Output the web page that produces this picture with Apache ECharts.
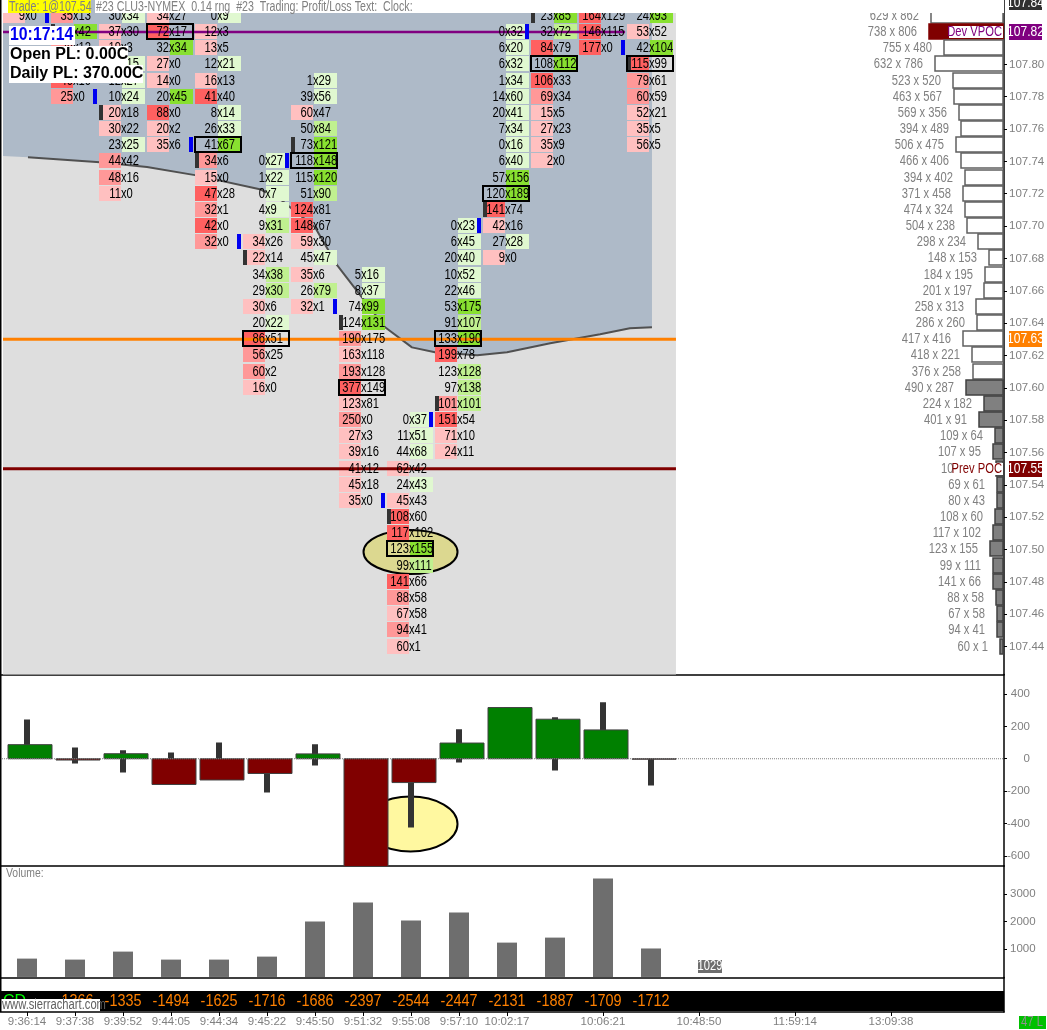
<!DOCTYPE html>
<html><head><meta charset="utf-8"><style>html,body{margin:0;padding:0;background:#fff}#c{width:1047px;height:1030px}</style>
<script src="https://cdn.jsdelivr.net/npm/echarts@6/dist/echarts.min.js"></script></head>
<body><div id="c"></div><script>
const FONT = '"Liberation Sans",sans-serif';
// footprint rows: [price, bid volume, ask volume], one list per bar
const bar0 = [[107.83,9,0]];
const bar1 = [[107.83,35,13],[107.82,18,42],[107.81,28,12],[107.80,22,15],[107.79,40,10],[107.78,25,0]];
const bar2 = [[107.83,30,34],[107.82,37,30],[107.81,19,3],[107.80,8,15],[107.79,12,27],[107.78,10,24],[107.77,20,18],[107.76,30,22],[107.75,23,25],[107.74,44,42],[107.73,48,16],[107.72,11,0]];
const bar3 = [[107.83,34,27],[107.82,72,17],[107.81,32,34],[107.80,27,0],[107.79,14,0],[107.78,20,45],[107.77,88,0],[107.76,20,2],[107.75,35,6]];
const bar4 = [[107.83,0,9],[107.82,12,3],[107.81,13,5],[107.80,12,21],[107.79,16,13],[107.78,41,40],[107.77,8,14],[107.76,26,33],[107.75,41,67],[107.74,34,6],[107.73,15,0],[107.72,47,28],[107.71,32,1],[107.70,42,0],[107.69,32,0]];
const bar5 = [[107.74,0,27],[107.73,1,22],[107.72,0,7],[107.71,4,9],[107.70,9,31],[107.69,34,26],[107.68,22,14],[107.67,34,38],[107.66,29,30],[107.65,30,6],[107.64,20,22],[107.63,86,51],[107.62,56,25],[107.61,60,2],[107.60,16,0]];
const bar6 = [[107.79,1,29],[107.78,39,56],[107.77,60,47],[107.76,50,84],[107.75,73,121],[107.74,118,148],[107.73,115,120],[107.72,51,90],[107.71,124,81],[107.70,148,67],[107.69,59,30],[107.68,45,47],[107.67,35,6],[107.66,26,79],[107.65,32,1]];
const bar7 = [[107.67,5,16],[107.66,8,37],[107.65,74,99],[107.64,124,131],[107.63,190,175],[107.62,163,118],[107.61,193,128],[107.60,377,149],[107.59,123,81],[107.58,250,0],[107.57,27,3],[107.56,39,16],[107.55,41,12],[107.54,45,18],[107.53,35,0]];
const bar8 = [[107.58,0,37],[107.57,11,51],[107.56,44,68],[107.55,62,42],[107.54,24,43],[107.53,45,43],[107.52,108,60],[107.51,117,102],[107.50,123,155],[107.49,99,111],[107.48,141,66],[107.47,88,58],[107.46,67,58],[107.45,94,41],[107.44,60,1]];
const bar9 = [[107.70,0,23],[107.69,6,45],[107.68,20,40],[107.67,10,52],[107.66,22,46],[107.65,53,175],[107.64,91,107],[107.63,133,190],[107.62,199,78],[107.61,123,128],[107.60,97,138],[107.59,101,101],[107.58,151,54],[107.57,71,10],[107.56,24,11]];
const bar10 = [[107.82,0,32],[107.81,6,20],[107.80,6,32],[107.79,1,34],[107.78,14,60],[107.77,20,41],[107.76,7,34],[107.75,0,16],[107.74,6,40],[107.73,57,156],[107.72,120,189],[107.71,141,74],[107.70,42,16],[107.69,27,28],[107.68,9,0]];
const bar11 = [[107.83,23,85],[107.82,32,72],[107.81,84,79],[107.80,108,112],[107.79,106,33],[107.78,69,34],[107.77,15,5],[107.76,27,23],[107.75,35,9],[107.74,2,0]];
const bar12 = [[107.83,164,129],[107.82,146,115],[107.81,177,0]];
const bar13 = [[107.83,24,93],[107.82,53,52],[107.81,42,104],[107.80,115,99],[107.79,79,61],[107.78,60,59],[107.77,52,21],[107.76,35,5],[107.75,56,5]];
const footprintBars = [bar0,bar1,bar2,bar3,bar4,bar5,bar6,bar7,bar8,bar9,bar10,bar11,bar12,bar13];
// bars whose point of control lies above the visible price range
const pocOffChart = [0,1,2,12];
// shade reference volume for the bars whose colouring is weaker than their own visible maximum
const bidShadeRef = {0:50,1:50,2:80};
const askShadeRef = {2:70,5:60};
// bar open / close markers: [bar index, price]
const openMarks = [[1,107.82],[2,107.77],[4,107.74],[5,107.68],[6,107.75],[7,107.64],[8,107.52],[9,107.59],[10,107.71],[11,107.83],[13,107.80]];
const closeMarks = [[1,107.83],[2,107.78],[4,107.75],[5,107.69],[6,107.74],[7,107.65],[8,107.53],[9,107.58],[10,107.70],[11,107.82],[13,107.81]];
// price ladder on the right
const ladderPrices = [107.83,107.82,107.81,107.80,107.79,107.78,107.77,107.76,107.75,107.74,107.73,107.72,107.71,107.70,107.69,107.68,107.67,107.66,107.65,107.64,107.63,107.62,107.61,107.60,107.59,107.58,107.57,107.56,107.55,107.54,107.53,107.52,107.51,107.50,107.49,107.48,107.47,107.46,107.45,107.44];
const ladderBid = [629,738,755,632,523,463,569,394,506,466,394,371,474,504,298,148,184,201,258,286,417,418,376,490,224,401,109,107,103,69,80,108,117,123,99,141,88,67,94,60];
const ladderAsk = [862,806,480,786,520,567,356,489,475,406,402,458,324,238,234,153,195,197,313,260,416,221,258,287,182,91,64,95,54,61,43,60,102,155,111,66,58,58,41,1];
const valueAreaLow = 107.61;
const priceTicks = [107.44,107.46,107.48,107.50,107.52,107.54,107.56,107.58,107.60,107.62,107.64,107.66,107.68,107.70,107.72,107.74,107.76,107.78,107.80];
const devPoc = 107.82, lastPrice = 107.63, prevPoc = 107.55, topPrice = 107.84;
// shaded cloud boundary: [bar position, price]
const cloudEdge = [[-0.5,107.7433],[0.02,107.7426],[1.52,107.7395],[2.5,107.7365],[3.5,107.7315],[4.85,107.7228],[5.33,107.7154],[5.48,107.7117],[6,107.6993],[6.46,107.6758],[7.46,107.6374],[8.02,107.6250],[8.5,107.6220],[9.38,107.6201],[10,107.6220],[10.9,107.6275],[11.94,107.6331],[12.56,107.6368],[13.02,107.6374]];
// delta panel
const deltaValues = [87,-8,31,-159,-131,-91,30,-711,-147,97,316,244,178,-3];
const deltaHigh = [243,70,52,39,101,0,89,0,0,182,316,256,349,0];
const deltaLow = [0,-29,-85,-159,-131,-208,-41,-711,-425,-23,0,-72,0,-165];
const deltaTicks = [-600,-400,-200,0,200,400];
// volume panel
const volumeValues = [663,627,916,627,627,735,2000,2687,2036,2325,1241,1422,3554,1029];
const volumeTicks = [1000,2000,3000];
// cumulative delta strip
const cumulativeDelta = [null,-1366,-1335,-1494,-1625,-1716,-1686,-2397,-2544,-2447,-2131,-1887,-1709,-1712];
// time labels
const timePositions = [0,1,2,3,4,5,6,7,8,9,10,12,14,16,18];
const timeLabels = ['9:36:14','9:37:38','9:39:52','9:44:05','9:44:34','9:45:22','9:45:50','9:51:32','9:55:08','9:57:10','10:02:17','10:06:21','10:48:50','11:59:14','13:09:38'];

const grey='#808080';
const xMin=-0.5625, xMax=20.354, plotRight=13.52, plotLeft=-0.5;
const priceMax=107.8398, priceMin=107.4227;
const SQ=0.8;

const shades={bid:['#FFC0C0','#FF9898','#FF6060'],ask:['#E0F8D0','#C0F090','#88E030']};
function shade(kind,v,ref){const r=v/ref;return shades[kind][r>=0.75?2:r>=0.5?1:0];}
const cells=[];
footprintBars.forEach((rows,i)=>{
  const doms=rows.map(r=>r[1]+r[2]);
  const maxTot=pocOffChart.includes(i)?-1:Math.max(...doms);
  const bidRef=bidShadeRef[i]||Math.max(...rows.filter(r=>r[1]>=r[2]).map(r=>r[1]),1);
  const askRef=askShadeRef[i]||Math.max(...rows.filter(r=>r[2]>=r[1]).map(r=>r[2]),1);
  rows.forEach(r=>{
    const bidC=r[1]>=r[2]?shade('bid',r[1],bidRef):'';
    const askC=r[2]>=r[1]?shade('ask',r[2],askRef):'';
    cells.push({value:[i,r[0]],bid:r[1],ask:r[2],bidC,askC,box:r[1]+r[2]===maxTot});
  });
});
function renderCells(p,api){
  const c=cells[p.dataIndex];const pt=api.coord(c.value);const x=Math.round(pt[0]),y=Math.round(pt[1]);
  const ch=[];
  if(c.bidC)ch.push({type:'rect',shape:{x:x-24,y:y-8,width:22,height:15},style:{fill:c.bidC}});
  if(c.askC)ch.push({type:'rect',shape:{x:x-1,y:y-8,width:23,height:15},style:{fill:c.askC}});
  return {type:'group',children:ch};
}
function renderCellText(p,api){
  const c=cells[p.dataIndex];const pt=api.coord(c.value);const x=Math.round(pt[0]),y=Math.round(pt[1]);
  const st=(t,a)=>({text:t,fill:'#000',font:'14px '+FONT,align:a,verticalAlign:'middle'});
  const ch=[
    {type:'text',x:x-2,y:y,scaleX:SQ,style:st(String(c.bid),'right')},
    {type:'text',x:x-2,y:y,scaleX:SQ,style:st('x'+c.ask,'left')}
  ];
  if(c.box)ch.push({type:'rect',shape:{x:x-24,y:y-8,width:46,height:15},style:{fill:'none',stroke:'#000',lineWidth:2}});
  return {type:'group',children:ch};
}
function renderMark(col,dx){return (p,api)=>{const pt=api.coord([api.value(0),api.value(1)]);
  return {type:'rect',shape:{x:Math.round(pt[0])+dx,y:Math.round(pt[1])-8,width:4,height:15},style:{fill:col}};};}
const ladderData=ladderPrices.map((p,i)=>[ladderBid[i]+ladderAsk[i],p,ladderBid[i],ladderAsk[i]]);
function renderLadder(p,api){
  const total=api.value(0),price=api.value(1);
  const a=api.coord([total,price]),b=api.coord([0,price]);
  const y=Math.round(a[1]),left=Math.round(a[0]);
  const poc=price===devPoc;const low=price<=valueAreaLow-0.0001;
  const fill=poc?'#800000':low?'#808080':'#fff', stroke=poc?'#800000':low?'#404040':'#606060';
  return {type:'group',children:[
    {type:'rect',shape:{x:left,y:y-8,width:Math.round(b[0])-left,height:15},style:{fill,stroke,lineWidth:1.5}},
    {type:'text',x:left-12,y:y,scaleX:SQ,style:{text:api.value(2)+' x '+api.value(3),fill:grey,font:'14px '+FONT,align:'right',verticalAlign:'middle'}}
  ]};
}
function renderPocTag(p,api){
  const pt=api.coord([0,api.value(1)]);const tag=p.dataIndex===0?'Dev VPOC':'Prev POC';const col=p.dataIndex===0?'#800080':'#800000';
  const x=Math.round(pt[0]),y=Math.round(pt[1]);const w=p.dataIndex===0?54:49;
  return {type:'group',children:[
    {type:'rect',shape:{x:x-w,y:y-6,width:w,height:12},style:{fill:'#fff'}},
    {type:'text',x:x-1,y:y,scaleX:SQ,style:{text:tag,fill:col,font:'14px '+FONT,align:'right',verticalAlign:'middle'}}
  ]};
}
const tags=[[topPrice,'#303030'],[devPoc,'#800080'],[lastPrice,'#FF8000'],[prevPoc,'#800000']];
function renderTag(p,api){
  const t=tags[p.dataIndex];const pt=api.coord([xMax,t[0]]);let y=Math.round(pt[1]);let h=16,top=y-8;
  if(y<8){top=0;h=10;}
  return {type:'group',children:[
    {type:'rect',shape:{x:1009,y:top,width:33,height:h},style:{fill:t[1]}},
    {type:'text',x:1025.5,y:y<8?3:y,scaleX:0.86,style:{text:t[0].toFixed(2),fill:'#fff',font:'14px '+FONT,align:'center',verticalAlign:'middle'}}
  ]};
}
function renderEllipse(fill,rx,ry){return (p,api)=>{const pt=api.coord([api.value(0),api.value(1)]);
  return {type:'ellipse',shape:{cx:pt[0],cy:pt[1],rx,ry},style:{fill,stroke:'#000',lineWidth:2}};};}
function renderDelta(p,api){
  const i=api.value(0),v=api.value(1),hi=api.value(2),lo=api.value(3);
  const c=api.coord([i,0]);const top=api.coord([i,hi]),bot=api.coord([i,lo]),val=api.coord([i,v]);
  const x=Math.round(c[0]);
  const ch=[{type:'rect',shape:{x:x-3,y:top[1],width:6,height:bot[1]-top[1]},style:{fill:'#333'}},
    {type:'rect',shape:{x:x-19,y:Math.min(val[1],c[1]),width:44,height:Math.abs(val[1]-c[1])},style:{fill:v>=0?'#008000':'#800000',stroke:'#404040',lineWidth:1}}];
  return {type:'group',children:ch};
}
function renderCum(p,api){
  const pt=api.coord([api.value(0),api.value(1)]);
  return {type:'text',x:pt[0],y:pt[1],scaleX:0.9,style:{text:String(cumulativeDelta[p.dataIndex]),fill:'#FF8000',font:'16px '+FONT,align:'center',verticalAlign:'middle'}};
}
function renderCumBand(p,api){
  const a=api.coord([xMin,api.value(1)]),b=api.coord([xMax,api.value(0)]);
  return {type:'rect',shape:{x:a[0],y:a[1],width:b[0]-a[0],height:b[1]-a[1]},style:{fill:'#000'}};
}
const axisBase={axisLine:{show:false},axisTick:{show:false},axisLabel:{show:false},splitLine:{show:false}};
const xBlack={show:true,onZero:false,lineStyle:{color:'#000',width:1.5}};
const yAxisCommon={type:'value',position:'right',scale:true,splitLine:{show:false},
  axisLine:{show:true,onZero:false,lineStyle:{color:'#000',width:1.5}},
  axisTick:{show:true,length:3,lineStyle:{color:'#000',width:1}}};
const levels=[[devPoc,'#800080',2.5,plotLeft,12.46],[lastPrice,'#FF8000',3,plotLeft,plotRight],[prevPoc,'#800000',3,plotLeft,plotRight]];
const ylab={color:grey,fontFamily:FONT,fontSize:11.5,margin:5};
const option={
  animation:false,backgroundColor:'#fff',
  textStyle:{fontFamily:FONT},
  grid:[
    {left:0,width:1004,top:0,height:674.5,outerBoundsMode:'none'},
    {left:0,width:1004,top:674.5,height:191.5,outerBoundsMode:'none'},
    {left:0,width:1004,top:866,height:111.5,outerBoundsMode:'none'},
    {left:0,width:1004,top:977.5,height:34.5,outerBoundsMode:'none'}
  ],
  xAxis:[
    {type:'value',gridIndex:0,min:xMin,max:xMax,...axisBase,axisLine:xBlack},
    {type:'value',gridIndex:0,min:-20,max:20896,inverse:true,...axisBase,show:false},
    {type:'value',gridIndex:1,min:xMin,max:xMax,...axisBase,axisLine:xBlack},
    {type:'value',gridIndex:2,min:xMin,max:xMax,...axisBase,axisLine:xBlack},
    {type:'value',gridIndex:3,min:xMin,max:xMax,position:'bottom',splitLine:{show:false},axisLine:xBlack,
      axisTick:{show:true,length:4,lineStyle:{color:'#000'},customValues:timePositions},
      axisLabel:{show:true,color:grey,fontFamily:FONT,fontSize:11.5,margin:4,showMinLabel:true,showMaxLabel:true,hideOverlap:false,customValues:timePositions,
        formatter:v=>timeLabels[timePositions.indexOf(v)]||''}}
  ],
  yAxis:[
    {...yAxisCommon,gridIndex:0,min:priceMin,max:priceMax,
      axisTick:{...yAxisCommon.axisTick,customValues:priceTicks},
      axisLabel:{...ylab,customValues:priceTicks,formatter:v=>v.toFixed(2)}},
    {...yAxisCommon,gridIndex:1,min:-662,max:520,
      axisTick:{...yAxisCommon.axisTick,customValues:deltaTicks},
      axisLabel:{...ylab,align:'right',margin:26,customValues:deltaTicks,formatter:v=>String(v)}},
    {...yAxisCommon,gridIndex:2,min:-20,max:4010,
      axisTick:{...yAxisCommon.axisTick,customValues:volumeTicks},
      axisLabel:{...ylab,margin:6,customValues:volumeTicks,formatter:v=>String(v)}},
    {...yAxisCommon,gridIndex:3,min:0,max:34.5,axisTick:{show:false},axisLabel:{show:false}}
  ],
  series:[
    {name:'plot area',type:'custom',xAxisIndex:0,yAxisIndex:0,z:1,data:[[priceMin,priceMax]],
      renderItem:(p,api)=>{const a=api.coord([plotLeft,api.value(1)]),b=api.coord([plotRight,api.value(0)]);
        return {type:'rect',shape:{x:a[0],y:a[1],width:b[0]-a[0],height:b[1]-a[1]},style:{fill:'#DEDEDE'}};}},
    {name:'cloud',type:'line',xAxisIndex:0,yAxisIndex:0,z:2,symbol:'none',silent:true,data:cloudEdge,
      lineStyle:{width:0},areaStyle:{color:'#AEBAC8',opacity:1,origin:'end'}},
    {name:'cloud edge',type:'line',xAxisIndex:0,yAxisIndex:0,z:3,symbol:'none',silent:true,data:cloudEdge.slice(1),
      lineStyle:{width:2,color:'#505050'}},
    {name:'marked ellipse',type:'custom',xAxisIndex:0,yAxisIndex:0,z:4,data:[[7.99,107.4985]],renderItem:renderEllipse('#DCD890',47,22)},
    {name:'cells',type:'custom',xAxisIndex:0,yAxisIndex:0,z:5,data:cells,renderItem:renderCells},
    ...levels.map(l=>({name:'level',type:'line',xAxisIndex:0,yAxisIndex:0,z:6,symbol:'none',silent:true,
      data:[[l[3],l[0]],[l[4],l[0]]],lineStyle:{color:l[1],width:l[2]}})),
    {name:'open',type:'custom',xAxisIndex:0,yAxisIndex:0,z:7,data:openMarks,renderItem:renderMark('#333',-24)},
    {name:'close',type:'custom',xAxisIndex:0,yAxisIndex:0,z:7,data:closeMarks,renderItem:renderMark('#0000F0',-30)},
    {name:'text',type:'custom',xAxisIndex:0,yAxisIndex:0,z:8,data:cells,renderItem:renderCellText},
    {name:'ladder',type:'custom',xAxisIndex:1,yAxisIndex:0,z:5,data:ladderData,renderItem:renderLadder},
    {name:'poc tags',type:'custom',xAxisIndex:1,yAxisIndex:0,z:6,data:[[0,devPoc],[0,prevPoc]],renderItem:renderPocTag},
    {name:'price tags',type:'custom',xAxisIndex:0,yAxisIndex:0,z:9,data:tags.map(t=>[0,t[0]]),renderItem:renderTag},
    {name:'delta ellipse',type:'custom',xAxisIndex:2,yAxisIndex:1,z:2,data:[[7.99,-403]],renderItem:renderEllipse('#FFF8A0',47,27.5)},
    {name:'delta',type:'custom',xAxisIndex:2,yAxisIndex:1,z:3,clip:true,
      data:deltaValues.map((v,i)=>[i,v,deltaHigh[i],deltaLow[i]]),renderItem:renderDelta},
    {name:'zero',type:'line',xAxisIndex:2,yAxisIndex:1,z:4,symbol:'none',silent:true,data:[[xMin,0],[xMax,0]],
      lineStyle:{color:'#808080',width:1,type:[1,1]}},
    {name:'volume',type:'bar',xAxisIndex:3,yAxisIndex:2,z:3,barWidth:20,data:volumeValues.map((v,i)=>[i,v]),
      itemStyle:{color:'#6E6E6E'}},
    {name:'strip',type:'custom',xAxisIndex:4,yAxisIndex:3,z:2,data:[[1,21]],renderItem:renderCumBand},
    {name:'cumulative',type:'custom',xAxisIndex:4,yAxisIndex:3,z:3,data:cumulativeDelta.map((v,i)=>[i,v===null?null:10]),renderItem:(p,api)=>isNaN(api.value(1))?null:renderCum(p,api)}
  ],
  graphic:[
    {type:'rect',z:50,shape:{x:0,y:0,width:91,height:13},style:{fill:'#fff'}},
    {type:'rect',z:50,shape:{x:95,y:0,width:909,height:13},style:{fill:'#fff'}},
    {type:'rect',z:50,shape:{x:0,y:0,width:1.5,height:1012},style:{fill:'#000'}},
    {type:'rect',z:51,shape:{x:8,y:0,width:83,height:13},style:{fill:'#FFFF00'}},
    {type:'text',z:52,x:9,y:7,scaleX:0.76,style:{text:'Trade: 1@107.54',fill:grey,font:'14px '+FONT,verticalAlign:'middle'}},
    {type:'text',z:52,x:96,y:7,scaleX:0.76,style:{text:'#23 CLU3-NYMEX  0.14 rng  #23  Trading: Profit/Loss Text:  Clock:',fill:grey,font:'14px '+FONT,verticalAlign:'middle'}},
    {type:'rect',z:51,shape:{x:9,y:26,width:66,height:19},style:{fill:'#fff'}},
    {type:'rect',z:51,shape:{x:9,y:46,width:119,height:19},style:{fill:'#fff'}},
    {type:'rect',z:51,shape:{x:9,y:65,width:134,height:18},style:{fill:'#fff'}},
    {type:'text',z:52,x:10,y:35.5,scaleX:0.88,style:{text:'10:17:14',fill:'#0000F0',font:'bold 18px "Liberation Sans",sans-serif',verticalAlign:'middle'}},
    {type:'text',z:52,x:10,y:55,style:{text:'Open PL: 0.00C',fill:'#000',font:'bold 16px "Liberation Sans",sans-serif',verticalAlign:'middle'}},
    {type:'text',z:52,x:10,y:74,style:{text:'Daily PL: 370.00C',fill:'#000',font:'bold 16px "Liberation Sans",sans-serif',verticalAlign:'middle'}},
    {type:'text',z:52,x:6,y:873,scaleX:SQ,style:{text:'Volume:',fill:grey,font:'13px '+FONT,verticalAlign:'middle'}},
    {type:'rect',z:51,shape:{x:698,y:960,width:24,height:13},style:{fill:'#6E6E6E'}},
    {type:'text',z:52,x:710,y:966.5,scaleX:SQ,style:{text:String(volumeValues[13]),fill:'#fff',font:'14px '+FONT,align:'center',verticalAlign:'middle'}},
    {type:'text',z:52,x:3,y:1002,style:{text:'CD',fill:'#00FF00',font:'16px '+FONT,verticalAlign:'middle'}},
    {type:'rect',z:53,shape:{x:1.5,y:999,width:98.5,height:12},style:{fill:'#fff'}},
    {type:'text',z:54,x:2,y:1005,scaleX:SQ,style:{text:'www.sierrachart.com',fill:'#606060',font:'14px '+FONT,verticalAlign:'middle'}},
    {type:'rect',z:51,shape:{x:1019,y:1016,width:27,height:13},style:{fill:'#00C000'}},
    {type:'text',z:52,x:1032,y:1022.5,scaleX:SQ,style:{text:'47 L',fill:'#909090',font:'14px '+FONT,align:'center',verticalAlign:'middle'}}
  ]
};
echarts.init(document.getElementById('c')).setOption(option);
</script></body></html>
